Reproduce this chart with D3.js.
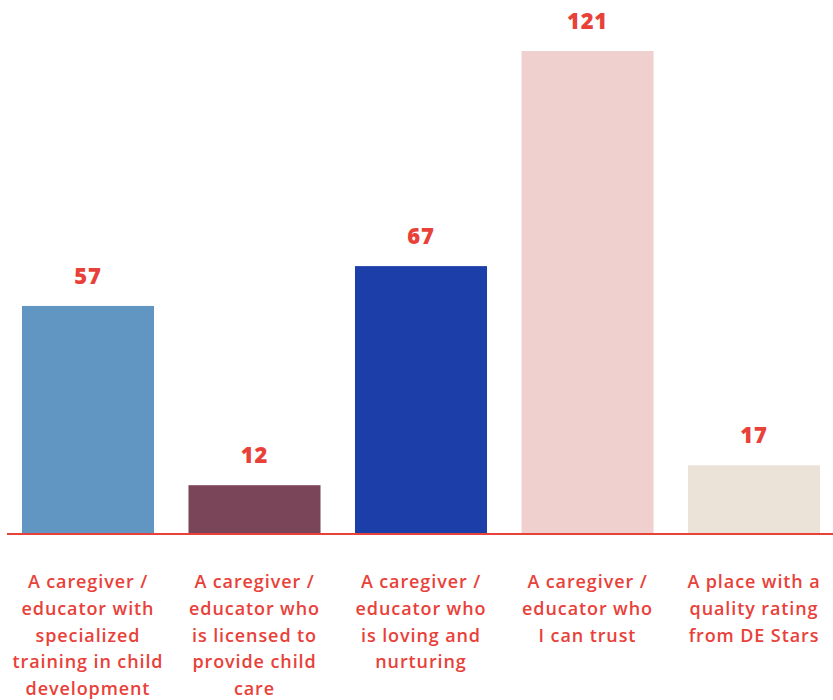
<!DOCTYPE html>
<html>
<head>
<meta charset="utf-8">
<script src="https://cdn.jsdelivr.net/npm/d3@7"></script>
<style>
  body { margin: 0; background: #fff; }
  svg { display: block; }
</style>
</head>
<body>
<div id="chart"></div>
<script>
const categories = [
  "A caregiver / educator with specialized training in child development",
  "A caregiver / educator who is licensed to provide child care",
  "A caregiver / educator who is loving and nurturing",
  "A caregiver / educator who I can trust",
  "A place with a quality rating from DE Stars"
];
// label lines as they wrap in the original
const labelLines = [
  ["A caregiver /", "educator with", "specialized", "training in child", "development"],
  ["A caregiver /", "educator who", "is licensed to", "provide child", "care"],
  ["A caregiver /", "educator who", "is loving and", "nurturing"],
  ["A caregiver /", "educator who", "I can trust"],
  ["A place with a", "quality rating", "from DE Stars"]
];
const values = [57, 12, 67, 121, 17];
const colors = ["#6196c3", "#7a4459", "#1c3ea8", "#f0cfcf", "#ebe2d8"];

const w = 833;
const h = 700;
const red = "#e8413a";
const baseY = 533;

const svg = d3.select("#chart")
  .append("svg")
  .attr("width", w)
  .attr("height", h);

const xScale = d3.scaleBand()
  .domain(categories)
  .range([4.75, 837.25])
  .paddingInner(0.207)
  .paddingOuter(0.1035);

const yScale = d3.scaleLinear()
  .domain([0, 121])
  .range([baseY, 51]);

svg.selectAll("rect.bar")
  .data(values)
  .enter()
  .append("rect")
  .attr("class", "bar")
  .attr("x", (d, i) => xScale(categories[i]))
  .attr("y", d => yScale(d))
  .attr("width", xScale.bandwidth())
  .attr("height", d => baseY - yScale(d))
  .attr("fill", (d, i) => colors[i]);

// value labels
svg.selectAll("text.val")
  .data(values)
  .enter()
  .append("text")
  .attr("class", "val")
  .attr("x", (d, i) => xScale(categories[i]) + xScale.bandwidth() / 2)
  .attr("y", d => yScale(d) - 22)
  .attr("text-anchor", "middle")
  .attr("font-family", "'Open Sans', sans-serif")
  .attr("font-weight", 800)
  .attr("font-size", "22px")
  .attr("letter-spacing", "0.8px")
  .attr("fill", red)
  .text(d => d);

// baseline
svg.append("line")
  .attr("x1", 7)
  .attr("x2", w)
  .attr("y1", baseY + 1)
  .attr("y2", baseY + 1)
  .attr("stroke", red)
  .attr("stroke-width", 2);

// category labels
const lab = svg.selectAll("text.cat")
  .data(labelLines)
  .enter()
  .append("text")
  .attr("class", "cat")
  .attr("text-anchor", "middle")
  .attr("font-family", "'Open Sans', sans-serif")
  .attr("font-weight", 600)
  .attr("font-size", "18px")
  .attr("letter-spacing", "0.9px")
  .attr("fill", red);

lab.each(function (lines, i) {
  const cx = xScale(categories[i]) + xScale.bandwidth() / 2;
  d3.select(this).selectAll("tspan")
    .data(lines)
    .enter()
    .append("tspan")
    .attr("x", cx)
    .attr("y", (d, j) => 588 + j * 26.8)
    .text(d => d);
});
</script>
</body>
</html>
